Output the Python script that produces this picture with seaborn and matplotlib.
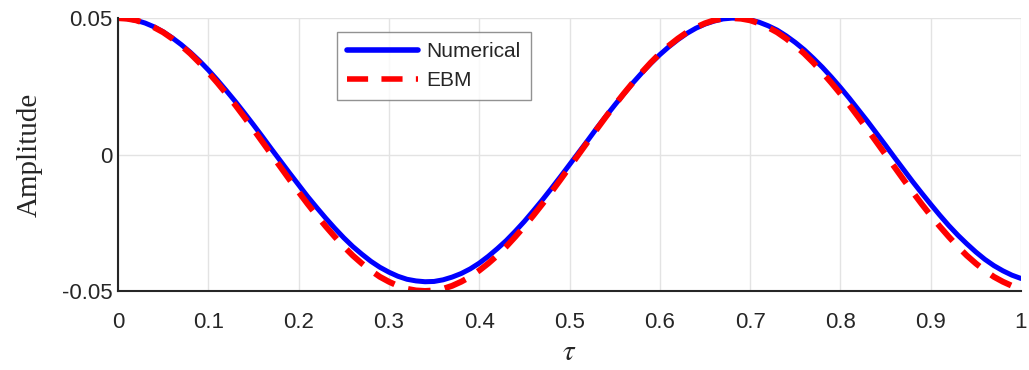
import numpy as np
import pandas as pd
import matplotlib
matplotlib.use("Agg")
import matplotlib.pyplot as plt
import seaborn as sns

# time axis (tau) and the two responses
tau = [0.00, 0.01, 0.02, 0.03, 0.04, 0.05, 0.06, 0.07, 0.08, 0.09,
       0.10, 0.11, 0.12, 0.13, 0.14, 0.15, 0.16, 0.17, 0.18, 0.19,
       0.20, 0.21, 0.22, 0.23, 0.24, 0.25, 0.26, 0.27, 0.28, 0.29,
       0.30, 0.31, 0.32, 0.33, 0.34, 0.35, 0.36, 0.37, 0.38, 0.39,
       0.40, 0.41, 0.42, 0.43, 0.44, 0.45, 0.46, 0.47, 0.48, 0.49,
       0.50, 0.51, 0.52, 0.53, 0.54, 0.55, 0.56, 0.57, 0.58, 0.59,
       0.60, 0.61, 0.62, 0.63, 0.64, 0.65, 0.66, 0.67, 0.68, 0.69,
       0.70, 0.71, 0.72, 0.73, 0.74, 0.75, 0.76, 0.77, 0.78, 0.79,
       0.80, 0.81, 0.82, 0.83, 0.84, 0.85, 0.86, 0.87, 0.88, 0.89,
       0.90, 0.91, 0.92, 0.93, 0.94, 0.95, 0.96, 0.97, 0.98, 0.99, 1.00]

numerical = [0.0500, 0.0498, 0.0492, 0.0482, 0.0468, 0.0450, 0.0428, 0.0403, 0.0375, 0.0344,
             0.0310, 0.0273, 0.0234, 0.0194, 0.0152, 0.0109, 0.0065, 0.0020, -0.0024, -0.0068,
             -0.0111, -0.0154, -0.0194, -0.0233, -0.0270, -0.0305, -0.0337, -0.0365, -0.0391, -0.0413,
             -0.0431, -0.0446, -0.0457, -0.0463, -0.0466, -0.0465, -0.0459, -0.0449, -0.0436, -0.0419,
             -0.0398, -0.0373, -0.0345, -0.0315, -0.0281, -0.0245, -0.0206, -0.0166, -0.0124, -0.0081,
             -0.0037, 0.0007, 0.0051, 0.0096, 0.0139, 0.0181, 0.0222, 0.0262, 0.0299, 0.0334,
             0.0366, 0.0395, 0.0421, 0.0444, 0.0463, 0.0478, 0.0489, 0.0497, 0.0500, 0.0499,
             0.0494, 0.0485, 0.0472, 0.0456, 0.0435, 0.0411, 0.0384, 0.0353, 0.0320, 0.0284,
             0.0246, 0.0206, 0.0164, 0.0122, 0.0078, 0.0034, -0.0011, -0.0055, -0.0099, -0.0141,
             -0.0182, -0.0222, -0.0260, -0.0295, -0.0327, -0.0357, -0.0384, -0.0407, -0.0426, -0.0442, -0.0454]

ebm = [0.0500, 0.0498, 0.0492, 0.0481, 0.0466, 0.0448, 0.0425, 0.0399, 0.0370, 0.0337,
       0.0301, 0.0263, 0.0223, 0.0181, 0.0137, 0.0092, 0.0046, 0.0000, -0.0046, -0.0092,
       -0.0137, -0.0181, -0.0223, -0.0263, -0.0301, -0.0337, -0.0370, -0.0399, -0.0425, -0.0448,
       -0.0466, -0.0481, -0.0492, -0.0498, -0.0500, -0.0498, -0.0492, -0.0481, -0.0466, -0.0448,
       -0.0425, -0.0399, -0.0370, -0.0337, -0.0301, -0.0263, -0.0223, -0.0181, -0.0137, -0.0092,
       -0.0046, 0.0000, 0.0046, 0.0092, 0.0137, 0.0181, 0.0223, 0.0263, 0.0301, 0.0337,
       0.0370, 0.0399, 0.0425, 0.0448, 0.0466, 0.0481, 0.0492, 0.0498, 0.0500, 0.0498,
       0.0492, 0.0481, 0.0466, 0.0448, 0.0425, 0.0399, 0.0370, 0.0337, 0.0301, 0.0263,
       0.0223, 0.0181, 0.0137, 0.0092, 0.0046, 0.0000, -0.0046, -0.0092, -0.0137, -0.0181,
       -0.0223, -0.0263, -0.0301, -0.0337, -0.0370, -0.0399, -0.0425, -0.0448, -0.0466, -0.0481, -0.0492]

x_ticks = [0, 0.1, 0.2, 0.3, 0.4, 0.5, 0.6, 0.7, 0.8, 0.9, 1]
x_tick_labels = ["0", "0.1", "0.2", "0.3", "0.4", "0.5", "0.6", "0.7", "0.8", "0.9", "1"]
y_ticks = [-0.05, 0, 0.05]
y_tick_labels = ["-0.05", "0", "0.05"]

sns.set_style("white")
plt.rcParams["font.family"] = ["Liberation Sans", "DejaVu Sans"]
plt.rcParams["mathtext.fontset"] = "stix"

df = pd.DataFrame({"tau": tau, "Numerical": numerical, "EBM": ebm})

fig = plt.figure(figsize=(10.29, 3.70), dpi=100)
ax = fig.add_axes([0.1147, 0.2135, 0.8775, 0.7375])

sns.lineplot(data=df, x="tau", y="Numerical", ax=ax, color="#0000ff",
             linewidth=3.6, label="Numerical")
sns.lineplot(data=df, x="tau", y="EBM", ax=ax, color="#ff0000",
             linewidth=4.3, label="EBM")
ax.lines[1].set_dashes((3.8, 2.4))
ax.lines[1].set_dash_capstyle("butt")

ax.set_xlim(0, 1)
ax.set_ylim(-0.05, 0.05)
ax.set_xticks(x_ticks)
ax.set_xticklabels(x_tick_labels)
ax.set_yticks(y_ticks)
ax.set_yticklabels(y_tick_labels)

ax.grid(True, color="#e3e3e3", linewidth=1.0)
ax.set_axisbelow(True)
for side in ["top", "right"]:
    ax.spines[side].set_visible(False)
for side in ["left", "bottom"]:
    ax.spines[side].set_color("#262626")
    ax.spines[side].set_linewidth(1.5)

ax.tick_params(axis="both", direction="in", length=7, width=1.5,
               colors="#262626", labelsize=16, labelcolor="#262626")
ax.tick_params(axis="x", pad=15)
ax.tick_params(axis="y", pad=4)

ax.set_xlabel(r"$\tau$", fontsize=21, labelpad=4)
ax.set_ylabel("Amplitude", fontsize=21, family="Liberation Serif", labelpad=14)

leg = ax.legend(loc="upper left", bbox_to_anchor=(0.2425, 0.949), fontsize=15,
                frameon=True, fancybox=False, edgecolor="#777777",
                handlelength=3.4, borderpad=0.5, labelspacing=0.45,
                handletextpad=0.4, borderaxespad=0)
leg.get_frame().set_linewidth(1.0)
for line in leg.get_lines():
    line.set_linewidth(4)

fig.savefig("out.png", dpi=100)
plt.close(fig)
